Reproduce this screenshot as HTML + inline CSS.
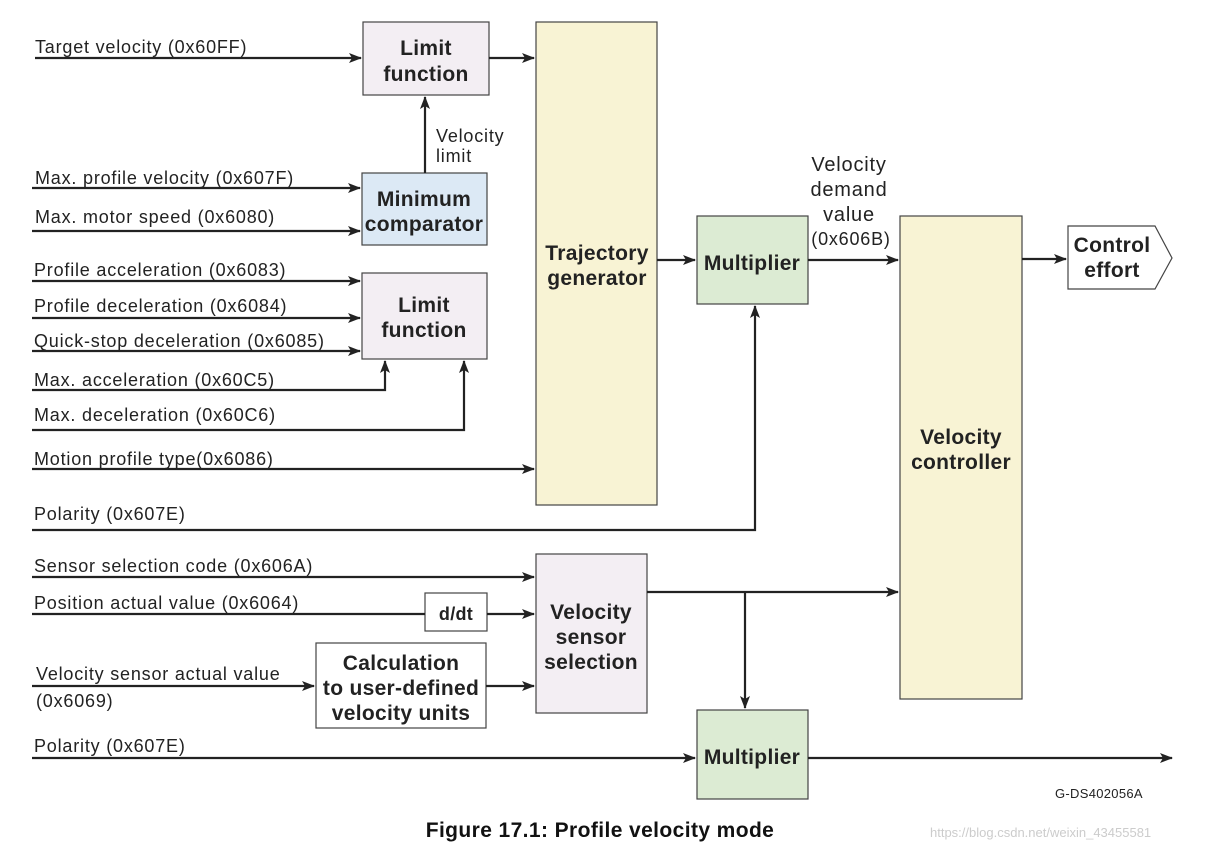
<!DOCTYPE html>
<html><head><meta charset="utf-8"><style>
html,body{margin:0;padding:0;background:#fff;}
svg{display:block;font-family:"Liberation Sans",Arial,sans-serif;}
.l{font-size:18px;fill:#222;letter-spacing:0.8px;}
.b{font-size:21px;font-weight:bold;fill:#222;text-anchor:middle;letter-spacing:0.3px;}
line,polyline{stroke:#222;stroke-width:2.2;fill:none;}
rect{stroke:#444;stroke-width:1.2;}
</style></head><body>
<svg width="1211" height="850" viewBox="0 0 1211 850">
<defs><marker id="a" markerWidth="13" markerHeight="10" refX="12" refY="5" orient="auto" markerUnits="userSpaceOnUse"><path d="M0,0 L13,5 L0,10 L3,5 Z" fill="#222"/></marker></defs>

<rect x="363" y="22" width="126" height="73" fill="#f3eef3"/>
<text class="b" x="426" y="55">Limit</text><text class="b" x="426" y="81">function</text>
<rect x="362" y="173" width="125" height="72" fill="#dce9f5"/>
<text class="b" x="424" y="206">Minimum</text><text class="b" x="424" y="231">comparator</text>
<rect x="362" y="273" width="125" height="86" fill="#f3eef3"/>
<text class="b" x="424" y="312">Limit</text><text class="b" x="424" y="337">function</text>
<rect x="536" y="22" width="121" height="483" fill="#f8f3d4"/>
<text class="b" x="597" y="260">Trajectory</text><text class="b" x="597" y="285">generator</text>
<rect x="697" y="216" width="111" height="88" fill="#dcebd3"/>
<text class="b" x="752" y="270">Multiplier</text>
<rect x="900" y="216" width="122" height="483" fill="#f8f3d4"/>
<text class="b" x="961" y="444">Velocity</text><text class="b" x="961" y="469">controller</text>
<polygon points="1068,226 1155,226 1172,258 1155,289 1068,289" fill="#fff" stroke="#444" stroke-width="1.2"/>
<text class="b" x="1112" y="252">Control</text><text class="b" x="1112" y="277">effort</text>
<rect x="536" y="554" width="111" height="159" fill="#f3eef3"/>
<text class="b" x="591" y="619">Velocity</text><text class="b" x="591" y="644">sensor</text><text class="b" x="591" y="669">selection</text>
<rect x="425" y="593" width="62" height="38" fill="#fff"/>
<text class="b" x="456" y="620" style="font-size:18px">d/dt</text>
<rect x="316" y="643" width="170" height="85" fill="#fff"/>
<text class="b" x="401" y="670">Calculation</text><text class="b" x="401" y="695">to user-defined</text><text class="b" x="401" y="720">velocity units</text>
<rect x="697" y="710" width="111" height="89" fill="#dcebd3"/>
<text class="b" x="752" y="764">Multiplier</text>

<text class="l" x="35" y="53">Target velocity (0x60FF)</text>
<text class="l" x="436" y="142">Velocity</text><text class="l" x="436" y="162">limit</text>
<text class="l" x="35" y="184">Max. profile velocity (0x607F)</text>
<text class="l" x="35" y="223">Max. motor speed (0x6080)</text>
<text class="l" x="34" y="276">Profile acceleration (0x6083)</text>
<text class="l" x="34" y="312">Profile deceleration (0x6084)</text>
<text class="l" x="34" y="347">Quick-stop deceleration (0x6085)</text>
<text class="l" x="34" y="386">Max. acceleration (0x60C5)</text>
<text class="l" x="34" y="421">Max. deceleration (0x60C6)</text>
<text class="l" x="34" y="465">Motion profile type(0x6086)</text>
<text class="l" x="34" y="520">Polarity (0x607E)</text>
<text class="l" x="34" y="572">Sensor selection code (0x606A)</text>
<text class="l" x="34" y="609">Position actual value (0x6064)</text>
<text class="l" x="36" y="680">Velocity sensor actual value</text>
<text class="l" x="36" y="707">(0x6069)</text>
<text class="l" x="34" y="752">Polarity (0x607E)</text>
<g class="l" text-anchor="middle" style="font-size:20px"><text x="849" y="171">Velocity</text><text x="849" y="196">demand</text><text x="849" y="221">value</text></g>
<text class="l" x="851" y="245" text-anchor="middle">(0x606B)</text>
<text class="l" x="1055" y="798" style="font-size:13px;letter-spacing:0.3px">G-DS402056A</text>
<text x="600" y="837" text-anchor="middle" style="font-size:21px;font-weight:bold;fill:#111;letter-spacing:0.4px">Figure 17.1: Profile velocity mode</text>
<text x="930" y="837" style="font-size:13px;fill:#ccc">https://blog.csdn.net/weixin_43455581</text>

<line x1="35" y1="58" x2="361" y2="58" marker-end="url(#a)"/>
<line x1="489" y1="58" x2="534" y2="58" marker-end="url(#a)"/>
<line x1="425" y1="173" x2="425" y2="97" marker-end="url(#a)"/>
<line x1="32" y1="188" x2="360" y2="188" marker-end="url(#a)"/>
<line x1="32" y1="231" x2="360" y2="231" marker-end="url(#a)"/>
<line x1="32" y1="281" x2="360" y2="281" marker-end="url(#a)"/>
<line x1="32" y1="318" x2="360" y2="318" marker-end="url(#a)"/>
<line x1="32" y1="351" x2="360" y2="351" marker-end="url(#a)"/>
<polyline points="32,390 385,390 385,361" marker-end="url(#a)"/>
<polyline points="32,430 464,430 464,361" marker-end="url(#a)"/>
<line x1="32" y1="469" x2="534" y2="469" marker-end="url(#a)"/>
<polyline points="32,530 755,530 755,306" marker-end="url(#a)"/>
<line x1="657" y1="260" x2="695" y2="260" marker-end="url(#a)"/>
<line x1="808" y1="260" x2="898" y2="260" marker-end="url(#a)"/>
<line x1="1022" y1="259" x2="1066" y2="259" marker-end="url(#a)"/>
<line x1="32" y1="577" x2="534" y2="577" marker-end="url(#a)"/>
<line x1="32" y1="614" x2="425" y2="614"/>
<line x1="487" y1="614" x2="534" y2="614" marker-end="url(#a)"/>
<line x1="32" y1="686" x2="314" y2="686" marker-end="url(#a)"/>
<line x1="486" y1="686" x2="534" y2="686" marker-end="url(#a)"/>
<line x1="647" y1="592" x2="898" y2="592" marker-end="url(#a)"/>
<line x1="745" y1="592" x2="745" y2="708" marker-end="url(#a)"/>
<line x1="32" y1="758" x2="695" y2="758" marker-end="url(#a)"/>
<line x1="808" y1="758" x2="1172" y2="758" marker-end="url(#a)"/>
</svg>
</body></html>
